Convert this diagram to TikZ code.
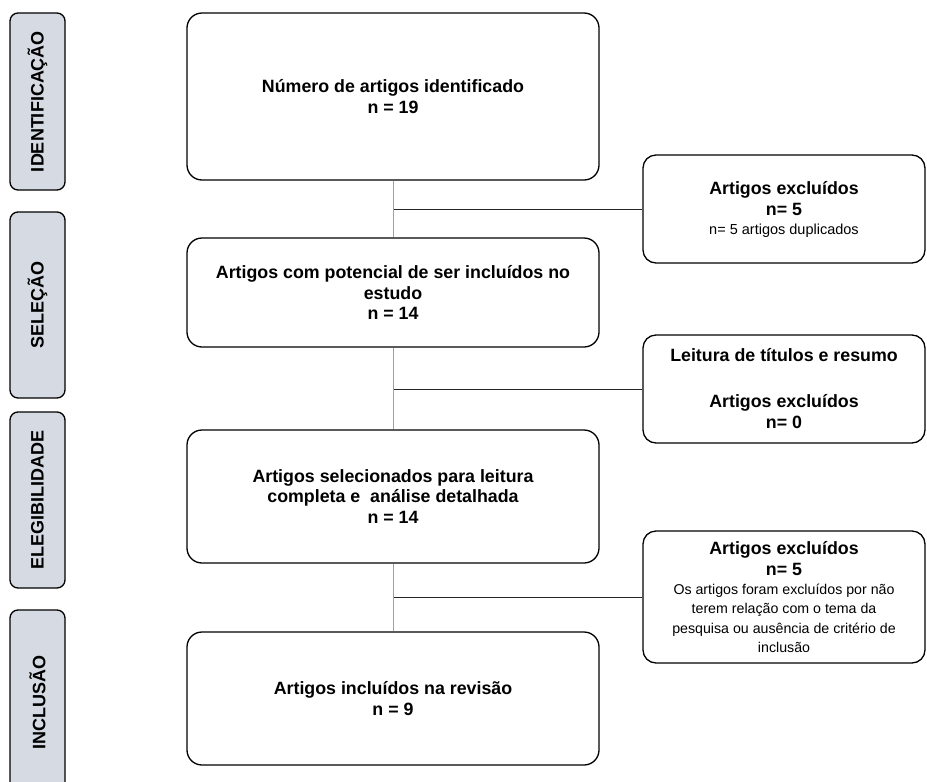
\documentclass[tikz,border=0pt]{standalone}
\usepackage{fontspec}
\setmainfont{Liberation Sans}
\usepackage{xcolor}
\usepackage{tikz}
\usetikzlibrary{positioning}

\definecolor{fasecor}{RGB}{213,218,227}
\definecolor{linhaazul}{RGB}{126,166,224}

\newcommand{\notafonte}{\fontsize{14.2}{19}\selectfont\mdseries}

\begin{document}
\begin{tikzpicture}[
    x=1pt, y=-1pt,
    caixa/.style={draw=black, line width=1.3pt, rounded corners=15pt, minimum width=412pt,
      align=center, inner sep=2pt, font=\fontsize{17.8}{20.5}\selectfont\bfseries},
    excl/.style={draw=black, line width=1.3pt, rounded corners=13pt, minimum width=282pt,
      align=center, inner sep=2pt, font=\fontsize{17.8}{21.5}\selectfont\bfseries},
    fase/.style={draw=black, fill=fasecor, line width=1.3pt, rounded corners=8pt, rotate=90,
      minimum height=55pt, font=\fontsize{18}{20}\selectfont\bfseries},
    ligacao/.style={draw=linhaazul, line width=1pt},
    ramo/.style={draw=black!85, line width=0.9pt}
  ]

  \useasboundingbox (0,0) rectangle (927,782);

  % fases na coluna da esquerda
  \node[fase, minimum width=177pt] (fIdent) at (37.5,101.5) {IDENTIFICAÇÃO};
  \node[fase, minimum width=186pt] (fSel) at (37.5,305) {SELEÇÃO};
  \node[fase, minimum width=176pt] (fEleg) at (37.5,500) {ELEGIBILIDADE};
  \node[fase, minimum width=185pt] (fIncl) at (37.5,702.5) {INCLUSÃO};

  % caixas principais
  \node[caixa, minimum height=167pt] (num) at (393,96.5)
    {Número de artigos identificado\\ n = 19};
  \node[caixa, minimum height=109pt] (pot) at (393,292.5)
    {Artigos com potencial de ser incluídos no\\ estudo\\ n = 14};
  \node[caixa, minimum height=133pt] (sel) at (393,496.5)
    {Artigos selecionados para leitura\\ completa e~ análise detalhada\\ n = 14};
  \node[caixa, minimum height=133pt] (inc) at (393,698.5)
    {Artigos incluídos na revisão\\ n = 9};

  % caixas de exclusão
  \node[excl, minimum height=108pt] (dup) at (784,209)
    {Artigos excluídos\\ n= 5\\[-3pt] \fontsize{14.5}{18}\selectfont\mdseries n= 5 artigos duplicados};
  \node[excl, minimum height=108pt] (tit) at (784,389)
    {Leitura de títulos e resumo\\[24pt] Artigos excluídos\\ n= 0};
  \node[excl, minimum height=132pt] (rel) at (784,597)
    {Artigos excluídos\\ n= 5\\[-3pt] \notafonte Os artigos foram excluídos por não\\[-2pt]
      \notafonte terem relação com o tema da\\[-2pt] \notafonte pesquisa ou ausência de critério de\\[-2pt]
      \notafonte inclusão};

  % ramos para as exclusões
  \draw[ramo] (dup.west) -- (dup.west -| num.south);
  \draw[ramo] (tit.west) -- (tit.west -| num.south);
  \draw[ramo] (rel.west) -- (rel.west -| num.south);

  % fluxo principal
  \draw[ligacao] (num.south) -- (pot.north);
  \draw[ligacao] (pot.south) -- (sel.north);
  \draw[ligacao] (sel.south) -- (inc.north);

\end{tikzpicture}
\end{document}
